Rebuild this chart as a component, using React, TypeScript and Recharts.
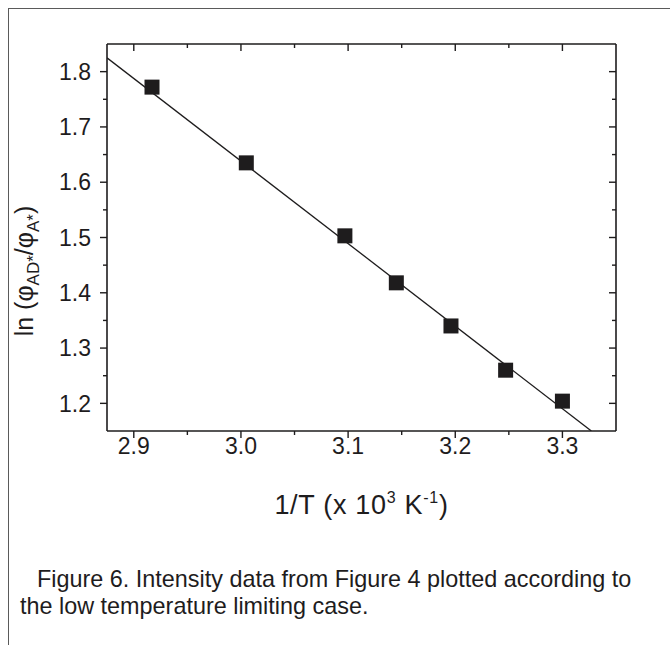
import React from "react";
import { Label, Scatter, ScatterChart, XAxis, YAxis } from "recharts";

// 1/T (x 10^3 K^-1) and ln(phiAD*/phiA*)
const invT = [2.917, 3.005, 3.097, 3.145, 3.196, 3.247, 3.3];
const lnRatio = [1.772, 1.635, 1.503, 1.418, 1.34, 1.26, 1.204];

// end points of the drawn linear fit
const fitInvT = [2.875, 3.327];
const fitLnRatio = [1.825, 1.15];

const xTicks = [2.9, 2.95, 3.0, 3.05, 3.1, 3.15, 3.2, 3.25, 3.3];
const yTicks = [1.2, 1.25, 1.3, 1.35, 1.4, 1.45, 1.5, 1.55, 1.6, 1.65, 1.7, 1.75, 1.8];

const xDomain = [2.875, 3.35];
const yDomain = [1.15, 1.85];

const points = invT.map((x, i) => ({ x, y: lnRatio[i] }));
const fit = fitInvT.map((x, i) => ({ x, y: fitLnRatio[i] }));

const INK = "#1e1c1d";
const FONT = '"Liberation Sans", Arial, Helvetica, sans-serif';

const isMajor = (v: number) => Math.abs(v * 10 - Math.round(v * 10)) < 1e-6;

type Side = "bottom" | "left" | "top" | "right";

function AxisTick(props: any) {
  const { x, y, payload, side } = props as { x: number; y: number; payload: { value: number }; side: Side };
  const v = payload.value;
  const major = isMajor(v);
  const len = major ? 7 : 4;
  const line = { stroke: INK, strokeWidth: 1.4 };

  if (side === "bottom") {
    return (
      <g>
        <line x1={x} y1={y} x2={x} y2={y + len} {...line} />
        {major && (
          <text x={x} y={y + 23} textAnchor="middle" fontSize={23} fill={INK} fontFamily={FONT}>
            {v.toFixed(1)}
          </text>
        )}
      </g>
    );
  }
  if (side === "left") {
    return (
      <g>
        <line x1={x - len} y1={y} x2={x} y2={y} {...line} />
        {major && (
          <text x={x - 16} y={y} dy="0.36em" textAnchor="end" fontSize={23} fill={INK} fontFamily={FONT}>
            {v.toFixed(1)}
          </text>
        )}
      </g>
    );
  }
  if (side === "top") {
    return <line x1={x} y1={y} x2={x} y2={y + len} {...line} />;
  }
  return <line x1={x - len} y1={y} x2={x} y2={y} {...line} />;
}

function Square(props: any) {
  const { cx, cy } = props;
  return <rect x={cx - 7.5} y={cy - 7.5} width={15} height={15} fill={INK} />;
}

const axisLine = { stroke: INK, strokeWidth: 1.6 };

export default function App() {
  return (
    <div
      style={{
        position: "absolute",
        top: 8,
        left: 8,
        width: 661,
        height: 636,
        borderTop: "1px solid #5a5a5a",
        borderLeft: "1px solid #5a5a5a",
        background: "#fff",
        fontFamily: FONT,
      }}
    >
      <div style={{ position: "absolute", top: 0, left: 0 }}>
        <ScatterChart width={640} height={520} margin={{ top: 35, right: 33, bottom: 38, left: 0 }}>
          <XAxis
            xAxisId="bottom"
            type="number"
            dataKey="x"
            domain={xDomain}
            allowDataOverflow
            ticks={xTicks}
            interval={0}
            height={60}
            tickSize={0}
            tickMargin={0}
            tickLine={false}
            axisLine={axisLine}
            tick={(p: any) => <AxisTick {...p} side="bottom" />}
          >
            <Label
              content={({ viewBox }: any) => (
                <text
                  x={viewBox.x + viewBox.width / 2}
                  y={viewBox.y + 83}
                  textAnchor="middle"
                  fontSize={27}
                  letterSpacing={0.7}
                  fill={INK}
                  fontFamily={FONT}
                >
                  1/T (x 10
                  <tspan dy={-11} fontSize={16}>3</tspan>
                  <tspan dy={11}> K</tspan>
                  <tspan dy={-11} fontSize={16}>-1</tspan>
                  <tspan dy={11}>)</tspan>
                </text>
              )}
            />
          </XAxis>
          <XAxis
            xAxisId="top"
            orientation="top"
            type="number"
            dataKey="x"
            domain={xDomain}
            allowDataOverflow
            ticks={xTicks}
            interval={0}
            height={30}
            mirror
            tickSize={0}
            tickMargin={0}
            tickLine={false}
            axisLine={axisLine}
            tick={(p: any) => <AxisTick {...p} side="top" />}
          />
          <YAxis
            yAxisId="left"
            type="number"
            dataKey="y"
            domain={yDomain}
            allowDataOverflow
            ticks={yTicks}
            interval={0}
            width={98}
            tickSize={0}
            tickMargin={0}
            tickLine={false}
            axisLine={axisLine}
            tick={(p: any) => <AxisTick {...p} side="left" />}
          >
            <Label
              content={() => (
                <text
                  transform="translate(24, 262) rotate(-90)"
                  textAnchor="middle"
                  fontSize={25}
                  fill={INK}
                  fontFamily={FONT}
                >
                  ln (φ
                  <tspan dy={6} fontSize={17}>AD*</tspan>
                  <tspan dy={-6}>/φ</tspan>
                  <tspan dy={6} fontSize={17}>A*</tspan>
                  <tspan dy={-6}>)</tspan>
                </text>
              )}
            />
          </YAxis>
          <YAxis
            yAxisId="right"
            orientation="right"
            type="number"
            dataKey="y"
            domain={yDomain}
            allowDataOverflow
            ticks={yTicks}
            interval={0}
            width={30}
            mirror
            tickSize={0}
            tickMargin={0}
            tickLine={false}
            axisLine={axisLine}
            tick={(p: any) => <AxisTick {...p} side="right" />}
          />
          <Scatter
            data={fit}
            xAxisId="top"
            yAxisId="right"
            line={{ stroke: INK, strokeWidth: 1.3 }}
            shape={() => <g />}
            isAnimationActive={false}
          />
          <Scatter
            data={points}
            xAxisId="bottom"
            yAxisId="left"
            shape={Square}
            isAnimationActive={false}
          />
        </ScatterChart>
      </div>
      <div
        style={{
          position: "absolute",
          top: 557,
          left: 11,
          fontSize: 23.4,
          lineHeight: "27px",
          color: INK,
          whiteSpace: "nowrap",
        }}
      >
        <div style={{ paddingLeft: 17 }}>Figure 6. Intensity data from Figure 4 plotted according to</div>
        <div>the low temperature limiting case.</div>
      </div>
    </div>
  );
}
